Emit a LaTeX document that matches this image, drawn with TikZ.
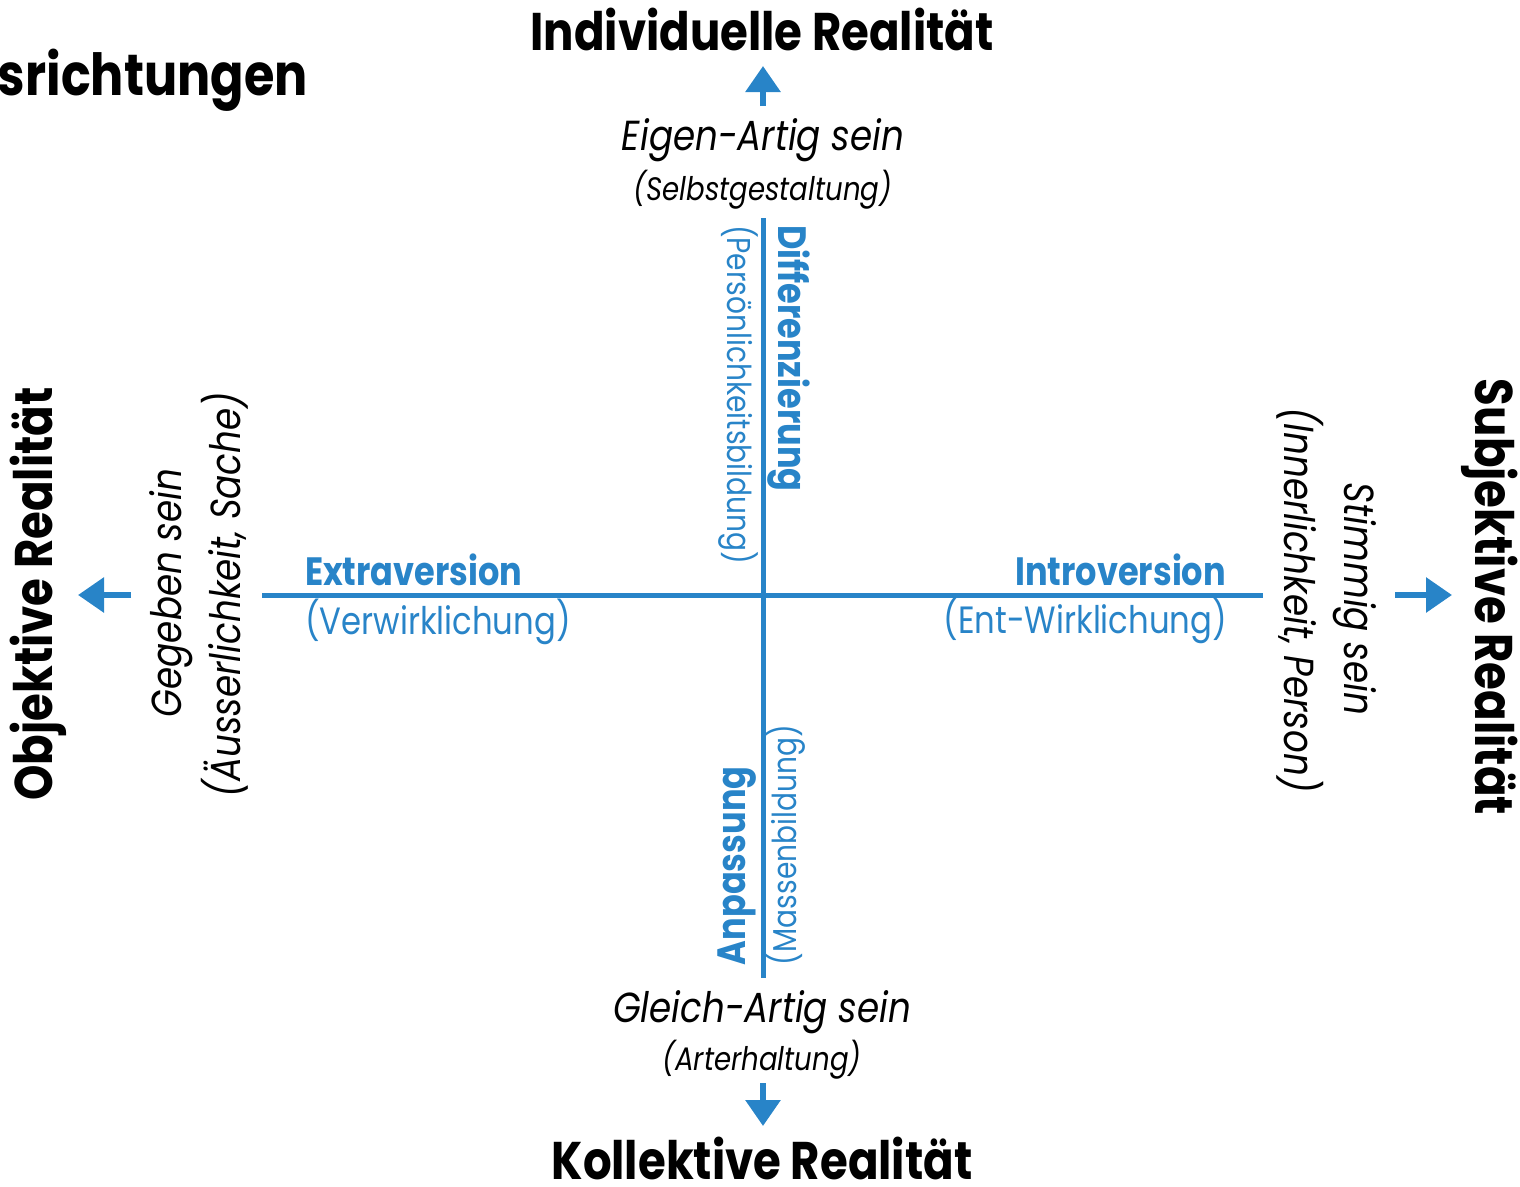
\documentclass[tikz,border=0pt]{standalone}
\usepackage{fontspec}
\setmainfont{Poppins}[FakeStretch=0.85]
\usetikzlibrary{arrows.meta}
\definecolor{axisblue}{RGB}{40,132,200}
\begin{document}
\begin{tikzpicture}[x=1pt,y=-1pt]
	\tikzstyle{every node}=[inner sep=0pt,outer sep=0pt]
	\tikzstyle{pole}=[font=\bfseries\fontsize{53}{53}\selectfont]
	\tikzstyle{being}=[font=\itshape\fontsize{42}{42}\selectfont]
	\tikzstyle{beingsub}=[font=\itshape\fontsize{32.5}{32.5}\selectfont]
	\tikzstyle{drive}=[text=axisblue,font=\bfseries\fontsize{39.5}{39.5}\selectfont]
	\tikzstyle{drivesub}=[text=axisblue,font=\fontsize{38}{38}\selectfont]
	\tikzstyle{drivenote}=[text=axisblue,font=\fontsize{33}{33}\selectfont]
	\tikzstyle{axisline}=[draw=axisblue,line width=5pt]
	\tikzstyle{polearrow}=[draw=axisblue,line width=6pt,-{Triangle[length=26pt,width=34pt]}]
	
	\clip (0,0) rectangle (1520,1186);
	
	\node[font=\bfseries\fontsize{58}{58}\selectfont,anchor=base west] (title) at (-2,95) {srichtungen};
	
	\node[pole] (indiv) at (762,29) {Individuelle Realität};
	\node[being] (eigen) at (763,140) {Eigen-Artig sein};
	\node[beingsub] (selbst) at (763,190) {(Selbstgestaltung)};
	
	\node[pole] (koll) at (762,1158) {Kollektive Realität};
	\node[being] (gleich) at (762,1012) {Gleich-Artig sein};
	\node[beingsub] (arter) at (762,1060) {(Arterhaltung)};
	
	\node[pole,rotate=90] (obj) at (38,594) {Objektive Realität};
	\node[being,rotate=90] (gegeben) at (171,593) {Gegeben sein};
	\node[being,rotate=90] (aeusser) at (225,595) {(Äusserlichkeit, Sache)};
	
	\node[pole,rotate=-90] (subj) at (1490,597) {Subjektive Realität};
	\node[being,rotate=-90] (stimmig) at (1355,599) {Stimmig sein};
	\node[being,rotate=-90] (inner) at (1300,600) {(Innerlichkeit, Person)};
	
	\node[drive,anchor=west] (extra) at (305,570) {Extraversion};
	\node[drivesub,anchor=west] (verw) at (305,622) {(Verwirklichung)};
	\node[drive,anchor=east] (intro) at (1226,570) {Introversion};
	\node[drivesub,anchor=east] (entw) at (1227,621) {(Ent-Wirklichung)};
	
	\node[drive,rotate=-90,anchor=west] (diff) at (789,225) {Differenzierung};
	\node[drivenote,rotate=-90,anchor=west] (pers) at (738,225) {(Persönlichkeitsbildung)};
	\node[drive,rotate=90,anchor=west] (anpass) at (737,965) {Anpassung};
	\node[drivenote,rotate=90,anchor=west] (masse) at (786,965) {(Massenbildung)};
	
	\coordinate (top) at (763,218);
	\coordinate (bottom) at (763,978);
	\coordinate (left) at (262,595);
	\coordinate (right) at (1263,595);
	\draw[axisline] (top) -- (bottom);
	\draw[axisline] (left) -- (right);
	
	\coordinate (up0) at (763,106);
	\coordinate (up1) at (763,66);
	\coordinate (down0) at (763,1083);
	\coordinate (down1) at (763,1126);
	\coordinate (west0) at (131,595);
	\coordinate (west1) at (78,595);
	\coordinate (east0) at (1395,595);
	\coordinate (east1) at (1452,595);
	\draw[polearrow] (up0) -- (up1);
	\draw[polearrow] (down0) -- (down1);
	\draw[polearrow] (west0) -- (west1);
	\draw[polearrow] (east0) -- (east1);
\end{tikzpicture}
\end{document}
